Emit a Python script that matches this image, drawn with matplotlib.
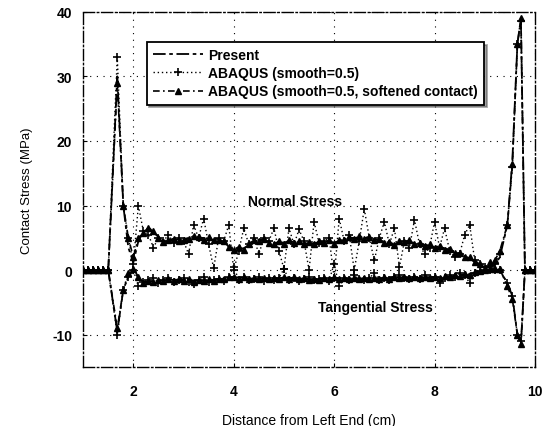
import matplotlib
matplotlib.use("Agg")
import matplotlib.pyplot as plt

plt.rcParams['font.family'] = ['Liberation Sans', 'DejaVu Sans']
plt.rcParams['axes.unicode_minus'] = False

# distance from left end (cm)
x_cm = [1.0, 1.1, 1.2, 1.3, 1.4, 1.5, 1.68, 1.8, 1.9,
        2.0, 2.1, 2.2, 2.3, 2.4, 2.5, 2.6, 2.7, 2.8, 2.9,
        3.0, 3.1, 3.2, 3.3, 3.4, 3.5, 3.6, 3.7, 3.8, 3.9,
        4.0, 4.1, 4.2, 4.3, 4.4, 4.5, 4.6, 4.7, 4.8, 4.9,
        5.0, 5.1, 5.2, 5.3, 5.4, 5.5, 5.6, 5.7, 5.8, 5.9,
        6.0, 6.1, 6.2, 6.3, 6.4, 6.5, 6.6, 6.7, 6.8, 6.9,
        7.0, 7.1, 7.2, 7.3, 7.4, 7.5, 7.6, 7.7, 7.8, 7.9,
        8.0, 8.1, 8.2, 8.3, 8.4, 8.5, 8.6, 8.7, 8.8, 8.9,
        9.0, 9.1, 9.2, 9.3,
        9.45, 9.55, 9.65, 9.72, 9.8, 9.9, 10.0]

# normal stress (MPa)
normal_present = [0, 0, 0, 0, 0, 0, 30, 10, 3.5,
                  1.2, 4.5, 6.0, 6.4, 5.8, 5.2, 4.6, 4.5, 4.6, 4.8,
                  4.8, 5.0, 5.1, 5.0, 5.0, 4.9, 4.9, 4.8, 4.3, 3.7,
                  3.4, 3.3, 3.4, 3.9, 4.4, 4.7, 4.6, 4.4, 4.2, 4.2,
                  4.3, 4.4, 4.4, 4.3, 4.2, 4.1, 4.2, 4.3, 4.4, 4.4,
                  4.3, 4.5, 4.8, 5.0, 5.0, 5.0, 5.1, 5.0, 4.8, 4.6,
                  4.4, 4.2, 4.1, 4.3, 4.5, 4.4, 4.2, 4.0, 3.9, 3.8,
                  3.7, 3.6, 3.4, 3.1, 2.8, 2.5, 2.2, 1.8, 1.3, 0.9,
                  0.6, 0.5, 0.8, 2.0,
                  7.0, 17.0, 35.0, 39.0, 0, 0, 0]
normal_abaqus = [0, 0, 0, 0, 0, 0, 33, 10, 5,
                 1, 10, 6, 5.5, 3.5, 5, 4.5, 5.5, 4.2, 5,
                 4.5, 2.5, 7, 5, 8, 4, 0.3, 5, 4.5, 7,
                 0, 3, 6.5, 4, 5, 2.5, 5, 4.5, 6.5, 3,
                 0.2, 6.5, 4, 6.3, 4.5, 0, 7.5, 4.2, 4.5, 5,
                 -1.2, 8, 4.5, 5.5, 0, 4.5, 9.5, 5, 1.5, 5,
                 7.5, 4, 6.5, 0.5, 4.5, 3.5, 7.8, 4, 2.5, 3.5,
                 7.5, 3.5, 6.5, 3, 2, 2.5, 5.5, 7, 1.5, 1,
                 0.5, 0.5, 1, 2.5,
                 7, 16, 35, 38.5, 0, 0, 0]
normal_soft = [0, 0, 0, 0, 0, 0, 29, 10, 5,
               2.0, 5.0, 5.8, 6.6, 6.0, 5.0, 4.3, 4.6, 4.9, 4.5,
               4.6, 4.9, 5.3, 5.2, 4.7, 5.1, 4.6, 4.7, 4.5, 3.6,
               3.2, 3.6, 3.1, 4.1, 4.6, 4.5, 4.9, 4.2, 4.0, 4.5,
               4.1, 4.6, 4.2, 4.5, 4.0, 4.3, 4.0, 4.5, 4.2, 4.6,
               4.1, 4.7, 4.6, 5.2, 4.8, 5.3, 4.9, 5.2, 4.6, 4.8,
               4.2, 4.4, 3.9, 4.5, 4.3, 4.6, 4.0, 4.2, 3.7, 4.0,
               3.5, 3.8, 3.2, 3.3, 2.6, 2.7, 2.0, 2.0, 1.2, 1.0,
               0.4, 1.2, 1.5, 3.0,
               7.0, 16.5, 35.0, 39.0, 0, 0, 0]

# tangential stress (MPa)
tang_present = [0, 0, 0, 0, 0, 0, -9.5, -3, -1,
                0, -1.2, -1.8, -1.8, -1.7, -1.6, -1.6, -1.5, -1.5, -1.5,
                -1.5, -1.5, -1.6, -1.6, -1.6, -1.5, -1.5, -1.4, -1.3, -1.2,
                -1.1, -1.1, -1.2, -1.3, -1.3, -1.3, -1.3, -1.3, -1.3, -1.2,
                -1.2, -1.2, -1.2, -1.3, -1.3, -1.4, -1.4, -1.4, -1.3, -1.3,
                -1.2, -1.2, -1.3, -1.3, -1.3, -1.3, -1.3, -1.3, -1.3, -1.3,
                -1.2, -1.2, -1.1, -1.1, -1.1, -1.1, -1.1, -1.1, -1.1, -1.1,
                -1.1, -1.1, -1.0, -1.0, -0.9, -0.8, -0.7, -0.6, -0.4, -0.2,
                0, 0.1, 0.1, 0,
                -2, -4, -10, -11.5, 0, 0, 0]
tang_abaqus = [0, 0, 0, 0, 0, 0, -10, -3, -1,
               0, -2.5, -1.8, -1.5, -1.2, -2, -1.5, -1.2, -1.8, -1.5,
               -1.2, -1.8, -2.2, -1.5, -1.0, -1.8, -1.5, -1.4, -1.6, -1.0,
               0.5, -1.5, -1.0, -1.5, -1.4, -1.0, -1.6, -1.2, -1.5, -1.2,
               0.2, -1.5, -1.2, -1.6, -1.3, -1.0, -1.5, -1.3, -1.2, -1.6,
               1.0, -2.5, -1.2, -1.5, -0.8, -1.4, -1.5, -1.2, -0.5, -1.5,
               -1.2, -1.5, -1.0, -0.8, -1.2, -1.4, -1.0, -1.3, -0.7, -1.2,
               -1.0, -2.0, -1.2, -0.8, -1.0, -0.5, -0.8, -2.0, -0.5, -0.2,
               0, 0, 0, 0,
               -2, -4, -10, -11, 0, 0, 0]
tang_soft = [0, 0, 0, 0, 0, 0, -9, -3, -0.5,
             0.2, -1.0, -2.0, -1.7, -1.9, -1.5, -1.7, -1.4, -1.6, -1.4,
             -1.6, -1.3, -1.8, -1.5, -1.7, -1.4, -1.6, -1.3, -1.4, -1.1,
             -1.0, -1.3, -1.1, -1.4, -1.2, -1.4, -1.2, -1.4, -1.2, -1.3,
             -1.1, -1.3, -1.1, -1.4, -1.2, -1.5, -1.3, -1.5, -1.2, -1.4,
             -1.1, -1.3, -1.2, -1.4, -1.2, -1.4, -1.2, -1.4, -1.2, -1.4,
             -1.1, -1.3, -1.0, -1.2, -1.0, -1.2, -1.0, -1.2, -1.0, -1.2,
             -1.0, -1.2, -0.9, -1.1, -0.8, -0.9, -0.6, -0.7, -0.3, -0.2,
             0.1, 0.2, 0.2, 0.2,
             -2.5, -4.5, -10, -11.5, 0, 0, 0]

labels = ['Present', 'ABAQUS (smooth=0.5)', 'ABAQUS (smooth=0.5, softened contact)']

fig = plt.figure(figsize=(5.47, 4.27), dpi=100)
ax = fig.add_axes([0.152, 0.138, 0.826, 0.832])

present_style = dict(color='black', lw=1.3, ls=(0, (7, 2, 2, 2)))
abaqus_style = dict(color='black', lw=1.0, ls=(0, (1, 2)), marker='+', ms=5.5, mew=1.2)
soft_style = dict(color='black', lw=1.2, ls=(0, (4, 2, 1, 2)), marker='^', ms=4.5)

ax.plot(x_cm, normal_present, label=labels[0], **present_style)
ax.plot(x_cm, normal_abaqus, label=labels[1], **abaqus_style)
ax.plot(x_cm, normal_soft, label=labels[2], **soft_style)
ax.plot(x_cm, tang_present, **present_style)
ax.plot(x_cm, tang_abaqus, **abaqus_style)
ax.plot(x_cm, tang_soft, **soft_style)

ax.set_xlim(1, 10)
ax.set_ylim(-15, 40)
ax.set_xticks([2, 4, 6, 8, 10])
ax.set_yticks([-10, 0, 10, 20, 30, 40])
ax.grid(True, color='black', lw=0.8, ls=(0, (1, 5)))
for s in ax.spines.values():
    s.set_linestyle((0, (8, 2, 1, 2)))
    s.set_linewidth(1.0)
ax.tick_params(direction='in', length=3, width=0.8)
ax.tick_params(axis='x', pad=12, labelsize=10)
ax.tick_params(axis='y', pad=8, labelsize=10)
for t in ax.get_xticklabels() + ax.get_yticklabels():
    t.set_fontweight('bold')

ax.set_xlabel('Distance from Left End (cm)', fontsize=10, labelpad=11)
ax.set_ylabel('Contact Stress (MPa)', fontsize=9.5, labelpad=14)

ax.text(5.22, 10.7, 'Normal Stress', fontsize=10, fontweight='bold', ha='center', va='center')
ax.text(6.82, -5.7, 'Tangential Stress', fontsize=10, fontweight='bold', ha='center', va='center')

leg = ax.legend(loc='upper left', bbox_to_anchor=(0.125, 0.935),
                prop={'size': 10, 'weight': 'bold'},
                frameon=True, fancybox=False, shadow=True, framealpha=1,
                edgecolor='black', handlelength=3.6, handletextpad=0.4,
                borderpad=0.45, labelspacing=0.3)
leg.get_frame().set_linewidth(1.3)

fig.savefig('out.png', dpi=100)
